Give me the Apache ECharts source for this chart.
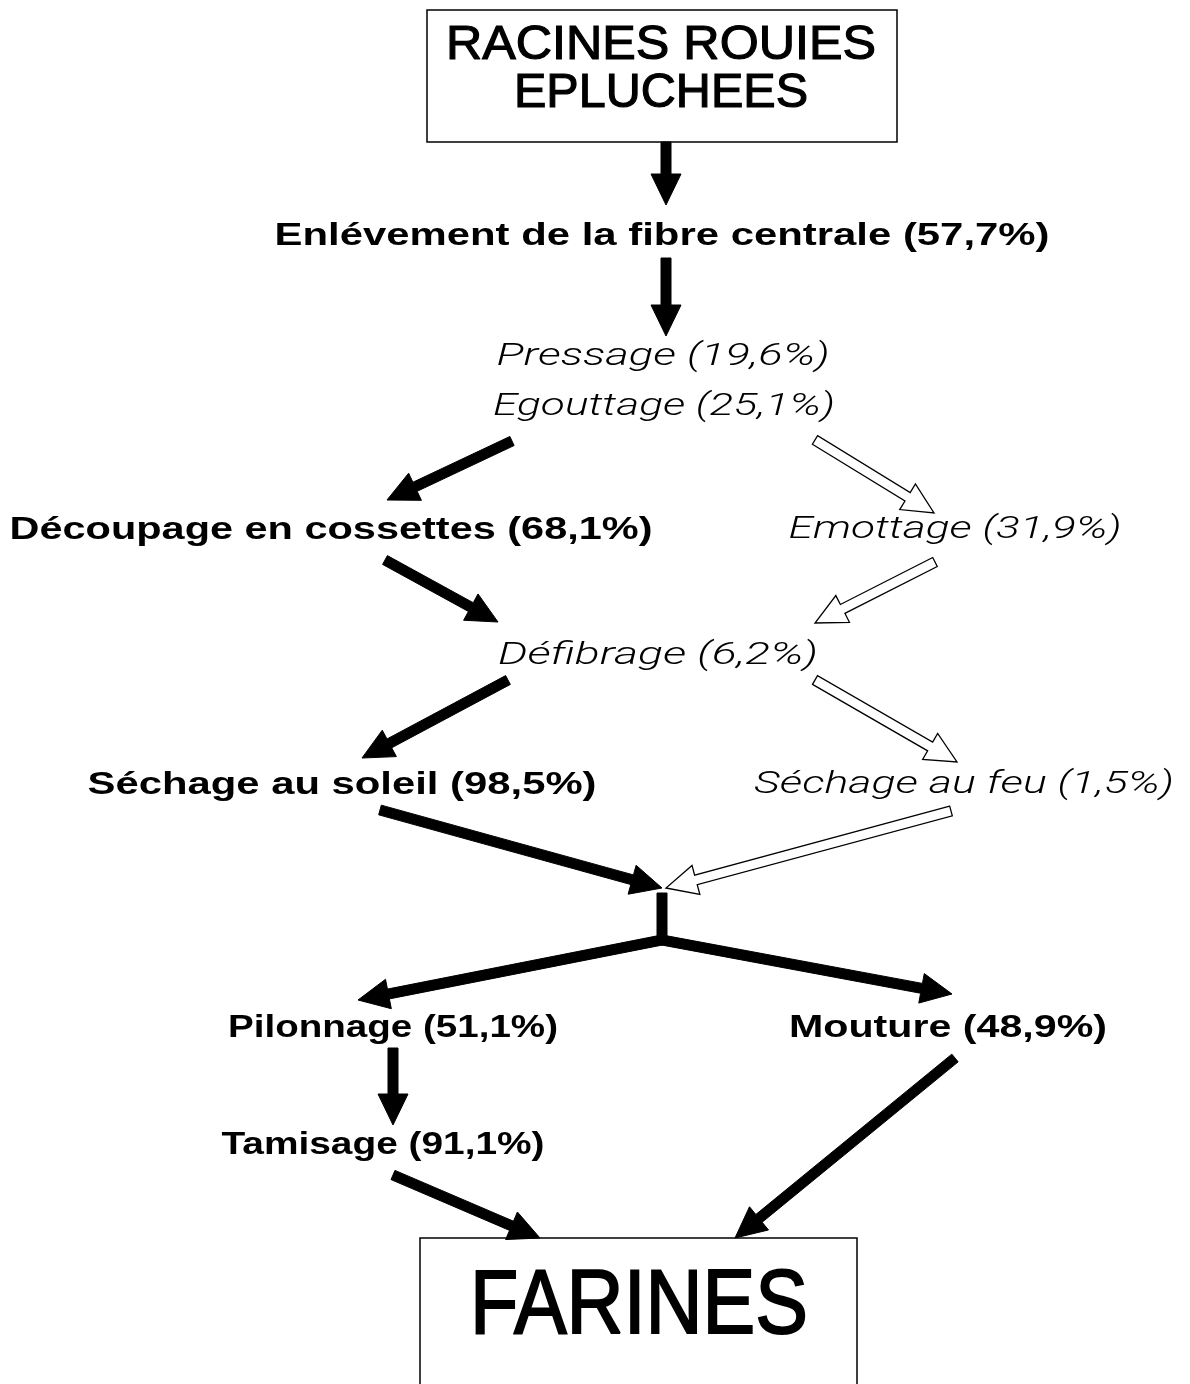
<!DOCTYPE html>
<html><head><meta charset="utf-8">
<script src="https://cdn.jsdelivr.net/npm/echarts@6/dist/echarts.min.js"></script>
<style>html,body{margin:0;padding:0;background:#fff}#c{width:1190px;height:1384px}</style>
</head><body><div id="c"></div>
<script>
// ---- content ----
const boxLines = ['RACINES ROUIES', 'EPLUCHEES', 'FARINES'];
const steps = [
  'Enlévement de la fibre centrale (57,7%)',
  'Pressage (19,6%)',
  'Egouttage (25,1%)',
  'Découpage en cossettes (68,1%)',
  'Emottage (31,9%)',
  'Défibrage (6,2%)',
  'Séchage au soleil (98,5%)',
  'Séchage au feu (1,5%)',
  'Pilonnage (51,1%)',
  'Mouture (48,9%)',
  'Tamisage (91,1%)'
];
// main path (bold) vs. minor path (light italic)
const stepKind = ['main','alt','alt','main','alt','alt','main','alt','main','main','main'];

// ---- layout (chart coordinate space: x 0..1190, y 0..1384 downward) ----
const boxRects = [[427,10,897,142],[420,1238,857,1420]];
const boxLinePos = [[661,45],[661,93],[639,1308]];
const boxLineWidth = [430,294,338];
const boxLineSize = [49,49,90];
const stepPos = [[662,236],[663,357],[664,407],[331,530],[955,530],[658,656],[342,785],[964,785],[393,1028],[948,1028],[383,1145]];
const stepWidth = [775,333,342,643,333,320,509,420,330,318,323];
// arrows: [tailX, tailY, tipX, tipY, kind]
const arrows = [
  [666,142,666,205,'solid'],
  [666,258,666,336,'solid'],
  [512,441,387,500,'solid'],
  [815,440,934,513,'hollow'],
  [385,560,498,622,'solid'],
  [935,562,815,623,'hollow'],
  [508,680,362,758,'solid'],
  [815,680,957,762,'hollow'],
  [380,810,662,888,'solid'],
  [951,811,666,888,'hollow'],
  [662,893,662,943,'bar'],
  [662,940,358,1000,'solid'],
  [662,940,952,994,'solid'],
  [393,1048,393,1125,'solid'],
  [393,1175,540,1238,'solid'],
  [955,1058,735,1238,'solid']
];

const BOLD = 'bold 32px "Liberation Sans", Arial, sans-serif';
const ITAL = 'italic 300 31px Roboto, "Liberation Sans", sans-serif';
const ctx = document.createElement('canvas').getContext('2d');
function measure(font, txt){ ctx.font = font; return ctx.measureText(txt).width; }
function boxFont(i){ return 'normal ' + boxLineSize[i] + 'px "Liberation Sans", Arial, sans-serif'; }

const chart = echarts.init(document.getElementById('c'), null, {renderer:'canvas'});

function arrowPoints(p1, p2, kind){
  const dx = p2[0]-p1[0], dy = p2[1]-p1[1];
  const len = Math.sqrt(dx*dx+dy*dy);
  const ux = dx/len, uy = dy/len, nx = -uy, ny = ux;
  const s = 5;
  if (kind === 'bar') {
    return [[p1[0]+nx*s,p1[1]+ny*s],[p2[0]+nx*s,p2[1]+ny*s],[p2[0]-nx*s,p2[1]-ny*s],[p1[0]-nx*s,p1[1]-ny*s]];
  }
  const L = 31, W = 15;
  const bx = p2[0]-ux*L, by = p2[1]-uy*L;
  return [
    [p1[0]+nx*s, p1[1]+ny*s],
    [bx+nx*s, by+ny*s],
    [bx+nx*W, by+ny*W],
    [p2[0], p2[1]],
    [bx-nx*W, by-ny*W],
    [bx-nx*s, by-ny*s],
    [p1[0]-nx*s, p1[1]-ny*s]
  ];
}

chart.setOption({
  animation:false,
  backgroundColor:'#fff',
  grid:{left:0,right:0,top:0,bottom:0},
  xAxis:{type:'value',min:0,max:1190,show:false},
  yAxis:{type:'value',min:0,max:1384,inverse:true,show:false},
  series:[
    {
      type:'custom', name:'boxes',
      data: boxRects.map((r,i)=>[r[0],r[1],r[2],r[3],i]),
      renderItem:function(params, api){
        const a = api.coord([api.value(0), api.value(1)]);
        const b = api.coord([api.value(2), api.value(3)]);
        return {type:'rect', shape:{x:a[0],y:a[1],width:b[0]-a[0],height:b[1]-a[1]},
          style:{fill:'none',stroke:'#000',lineWidth:1.5}};
      }
    },
    {
      type:'custom', name:'boxText',
      data: boxLines.map((t,i)=>[boxLinePos[i][0], boxLinePos[i][1], i]),
      renderItem:function(params, api){
        const i = api.value(2);
        const p = api.coord([api.value(0), api.value(1)]);
        const f = boxFont(i);
        const sx = boxLineWidth[i]/measure(f, boxLines[i]);
        return {type:'text', x:p[0], y:p[1], scaleX:sx,
          style:{text:boxLines[i], font:f, fill:'#000', stroke:'#000', lineWidth: i===2 ? 2 : 1.2,
            align:'center', verticalAlign:'middle'}};
      }
    },
    {
      type:'custom', name:'steps',
      data: steps.map((t,i)=>[stepPos[i][0], stepPos[i][1], i]),
      renderItem:function(params, api){
        const i = api.value(2);
        const p = api.coord([api.value(0), api.value(1)]);
        const f = stepKind[i]==='main' ? BOLD : ITAL;
        const sx = stepWidth[i]/measure(f, steps[i]);
        return {type:'text', x:p[0], y:p[1], scaleX:sx,
          style:{text:steps[i], font:f, fill:'#000', align:'center', verticalAlign:'middle'}};
      }
    },
    {
      type:'custom', name:'arrows',
      data: arrows.map((a,i)=>[a[0],a[1],a[2],a[3],i]),
      renderItem:function(params, api){
        const i = api.value(4);
        const p1 = api.coord([api.value(0), api.value(1)]);
        const p2 = api.coord([api.value(2), api.value(3)]);
        const kind = arrows[i][4];
        const hollow = kind==='hollow';
        return {type:'polygon', shape:{points:arrowPoints(p1,p2,kind)},
          style: hollow ? {fill:'#fff',stroke:'#000',lineWidth:1.3} : {fill:'#000',stroke:'#000',lineWidth:1}};
      }
    }
  ]
});
</script>
</body></html>
